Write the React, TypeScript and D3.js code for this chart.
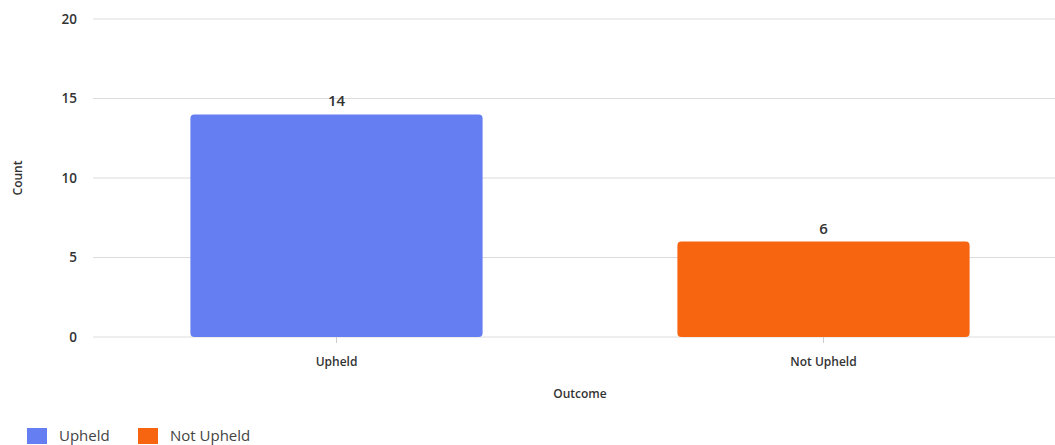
import React from "react";
import * as d3 from "d3";

const categories = ["Upheld", "Not Upheld"];
const counts = [14, 6];
const colors = ["#657ef1", "#f76510"];
const yTicks = [0, 5, 10, 15, 20];

const W = 1055;
const H = 445;

export default function App() {
  const x = d3.scaleBand<string>().domain(categories).range([93, 1067]).paddingInner(0.4).paddingOuter(0.2);
  const y = d3.scaleLinear().domain([0, 20]).range([337, 19]);
  const font = "'Open Sans', 'Noto Sans', sans-serif";
  const legendX = [27, 138];
  return (
    <svg width={W} height={H} style={{ position: "absolute", left: 0, top: 0, fontFamily: font }}>
      <rect width={W} height={H} fill="#fff" />
      {yTicks.map((t) => (
        <g key={t}>
          <line x1={93} x2={W} y1={y(t)} y2={y(t)} stroke="#dcdcdc" strokeWidth={1} />
          <text x={77} y={y(t)} dy="0.35em" textAnchor="end" fontSize={13.5} fill="#333" fontWeight={600}>
            {t}
          </text>
        </g>
      ))}
      {categories.map((c, i) => (
        <g key={c}>
          <line x1={x(c)! + x.bandwidth() / 2} x2={x(c)! + x.bandwidth() / 2} y1={y(0)} y2={y(0) + 6} stroke="#ccc" />
          <rect
            x={x(c)!}
            y={y(counts[i])}
            width={x.bandwidth()}
            height={y(0) - y(counts[i])}
            rx={4}
            fill={colors[i]}
          />
          <text x={x(c)! + x.bandwidth() / 2} y={y(counts[i]) - 8} textAnchor="middle" fontSize={15} fill="#333" fontWeight={600}>
            {counts[i]}
          </text>
          <text x={x(c)! + x.bandwidth() / 2} y={362} dy="0.35em" textAnchor="middle" fontSize={12} fill="#333" fontWeight={600}>
            {c}
          </text>
        </g>
      ))}
      <text x={580} y={394} dy="0.35em" textAnchor="middle" fontSize={12} fill="#333" fontWeight={600}>
        Outcome
      </text>
      <text transform={`translate(18,178) rotate(-90)`} textAnchor="middle" dy="0.35em" fontSize={12} fill="#333" fontWeight={600}>
        Count
      </text>
      {categories.map((c, i) => (
        <g key={"lg" + c}>
          <rect x={legendX[i]} y={428} width={20} height={16} fill={colors[i]} />
          <text x={legendX[i] + 32} y={436} dy="0.35em" fontSize={15} fill="#444">
            {c}
          </text>
        </g>
      ))}
    </svg>
  );
}
